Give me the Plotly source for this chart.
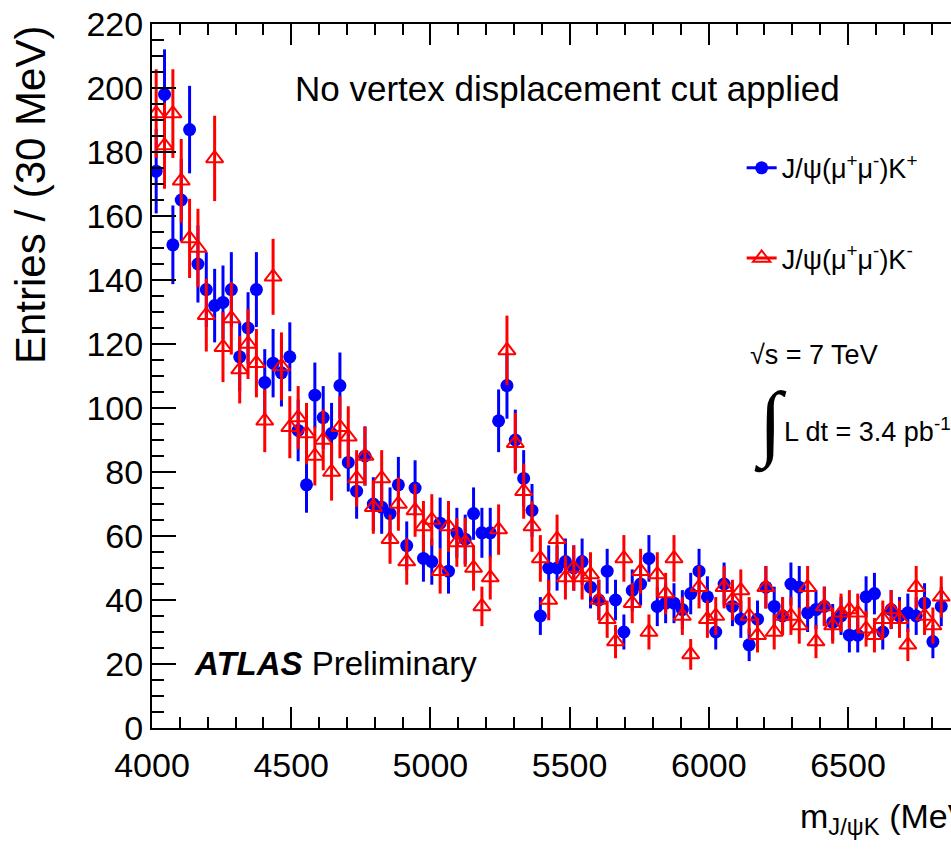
import numpy as np
import plotly.graph_objects as go

# Histogram binning (30 MeV bins from 4000 MeV)
BIN_WIDTH = 30
MASS_MIN = 4000
mass_centers = [MASS_MIN + BIN_WIDTH / 2 + BIN_WIDTH * i for i in range(95)]

# Entries per bin, J/psi K+
kplus = [174, 198, 151, 165, 187, 145, 137, 132, 133, 137,
         116, 125, 137, 108, 114, 111, 116, 93, 76, 104,
         97, 92, 107, 83, 74, 85, 70, 69, 67, 76,
         57, 75, 53, 52, 64, 49, 61, 59, 67, 61,
         61, 96, 107, 90, 78, 68, 35, 50, 50, 52,
         50, 52, 44, 40, 49, 40, 30, 43, 45, 53,
         38, 39, 39, 37, 42, 49, 41, 30, 45, 38,
         34, 26, 34, 44, 38, 35, 45, 44, 36, 37,
         38, 33, 35, 29, 29, 41, 42, 30, 37, 35,
         36, 35, 39, 27, 38]

# Entries per bin, J/psi K-
kminus = [192, 182, 192, 171, 153, 150, 129, 178, 119, 128,
          112, 120, 114, 96, 141, 113, 94, 97, 92, 85,
          90, 80, 94, 91, 78, 85, 69, 78, 59, 70,
          52, 68, 63, 65, 49, 63, 58, 58, 50, 38,
          47, 62, 118, 89, 74, 63, 53, 40, 59, 47,
          50, 47, 48, 40, 34, 27, 53, 39, 49, 30,
          48, 42, 53, 35, 23, 44, 34, 35, 44, 40,
          43, 35, 29, 44, 30, 35, 35, 32, 44, 27,
          38, 32, 36, 37, 36, 31, 29, 34, 37, 34,
          26, 44, 35, 32, 41]

x_ticks = [4000, 4500, 5000, 5500, 6000, 6500]
y_ticks = [0, 20, 40, 60, 80, 100, 120, 140, 160, 180, 200, 220]

BLUE = "#0000ff"
RED = "#ff0000"
FONT = "Liberation Sans, Arial, sans-serif"

fig = go.Figure()

fig.add_trace(go.Scatter(
    x=mass_centers, y=kplus, mode="markers", showlegend=False,
    marker=dict(symbol="circle", size=13, color=BLUE, line=dict(width=0)),
    error_y=dict(type="data", array=list(np.sqrt(kplus)), color=BLUE,
                 thickness=3, width=0),
    cliponaxis=True,
))
fig.add_trace(go.Scatter(
    x=mass_centers, y=kminus, mode="markers", showlegend=False,
    marker=dict(symbol="triangle-up-open", size=15, color=RED,
                line=dict(width=2, color=RED)),
    error_y=dict(type="data", array=list(np.sqrt(kminus)), color=RED,
                 thickness=3, width=0),
    cliponaxis=True,
))

# legend entries (line + marker style)
fig.add_trace(go.Scatter(
    x=[None], y=[None], mode="lines+markers", legend="legend",
    name="J/ψ(μ<sup>+</sup>μ<sup>-</sup>)K<sup>+</sup>",
    line=dict(color=BLUE, width=3),
    marker=dict(symbol="circle", size=13, color=BLUE),
))
fig.add_trace(go.Scatter(
    x=[None], y=[None], mode="lines+markers", legend="legend2",
    name="J/ψ(μ<sup>+</sup>μ<sup>-</sup>)K<sup>-</sup>",
    line=dict(color=RED, width=3),
    marker=dict(symbol="triangle-up-open", size=15, color=RED,
                line=dict(width=2, color=RED)),
))

axis_common = dict(
    showgrid=False, zeroline=False, showline=True, linecolor="black",
    linewidth=2, ticks="inside", tickcolor="black", tickwidth=1.5,
    tickfont=dict(family=FONT, size=34, color="black"),
)

fig.update_layout(
    width=951, height=850,
    margin=dict(l=152, r=0, t=24, b=122),
    paper_bgcolor="white", plot_bgcolor="white",
    font=dict(family=FONT, color="black"),
    xaxis=dict(
        range=[4000, 6870], tickvals=x_ticks, ticklen=21,
        mirror="ticks", ticklabelstandoff=6,
        minor=dict(dtick=100, tick0=4000, ticks="inside", ticklen=11,
                   tickcolor="black", tickwidth=1.5),
        **axis_common,
    ),
    yaxis=dict(
        range=[0, 220], tickvals=y_ticks, ticklen=24,
        minor=dict(dtick=5, tick0=0, ticks="inside", ticklen=12,
                   tickcolor="black", tickwidth=1.5),
        **axis_common,
    ),
    legend=dict(x=0.738, y=0.795, xanchor="left", yanchor="middle",
                bgcolor="rgba(0,0,0,0)", font=dict(size=27, family=FONT),
                itemwidth=30, tracegroupgap=0),
    legend2=dict(x=0.738, y=0.667, xanchor="left", yanchor="middle",
                 bgcolor="rgba(0,0,0,0)", font=dict(size=27, family=FONT),
                 itemwidth=30, tracegroupgap=0),
)

annotations = [
    dict(text="No vertex displacement cut applied", x=293, y=88, size=35),
    dict(text="√s = 7 TeV", x=748, y=355, size=27),
    dict(text="L dt = 3.4 pb<sup>-1</sup>", x=782, y=430, size=27),
    dict(text="<b><i>ATLAS</i></b> Preliminary", x=192, y=663, size=33),
    dict(text="m<sub>J/ψK</sub> (MeV)", x=798, y=818, size=34),
]
for a in annotations:
    fig.add_annotation(
        text=a["text"], xref="paper", yref="paper",
        x=(a["x"] - 152) / 799, y=(728 - a["y"]) / 704,
        xanchor="left", yanchor="middle", showarrow=False,
        font=dict(family=FONT, color="black", size=a["size"]),
    )

# integral sign (thin, tall)
fig.add_annotation(
    text="∫", xref="paper", yref="paper",
    x=(752 - 152) / 799, y=(728 - 424) / 704,
    xanchor="left", yanchor="middle", showarrow=False,
    font=dict(family="Liberation Serif, serif", color="black", size=84),
)

# y-axis title, aligned to the top of the axis (ROOT style)
fig.add_annotation(
    text="Entries / (30 MeV)", xref="paper", yref="paper",
    x=(30 - 152) / 799, y=(728 - 24) / 704,
    xanchor="center", yanchor="top", textangle=-90, showarrow=False,
    font=dict(family=FONT, color="black", size=42),
)

fig.write_html("out.html")
